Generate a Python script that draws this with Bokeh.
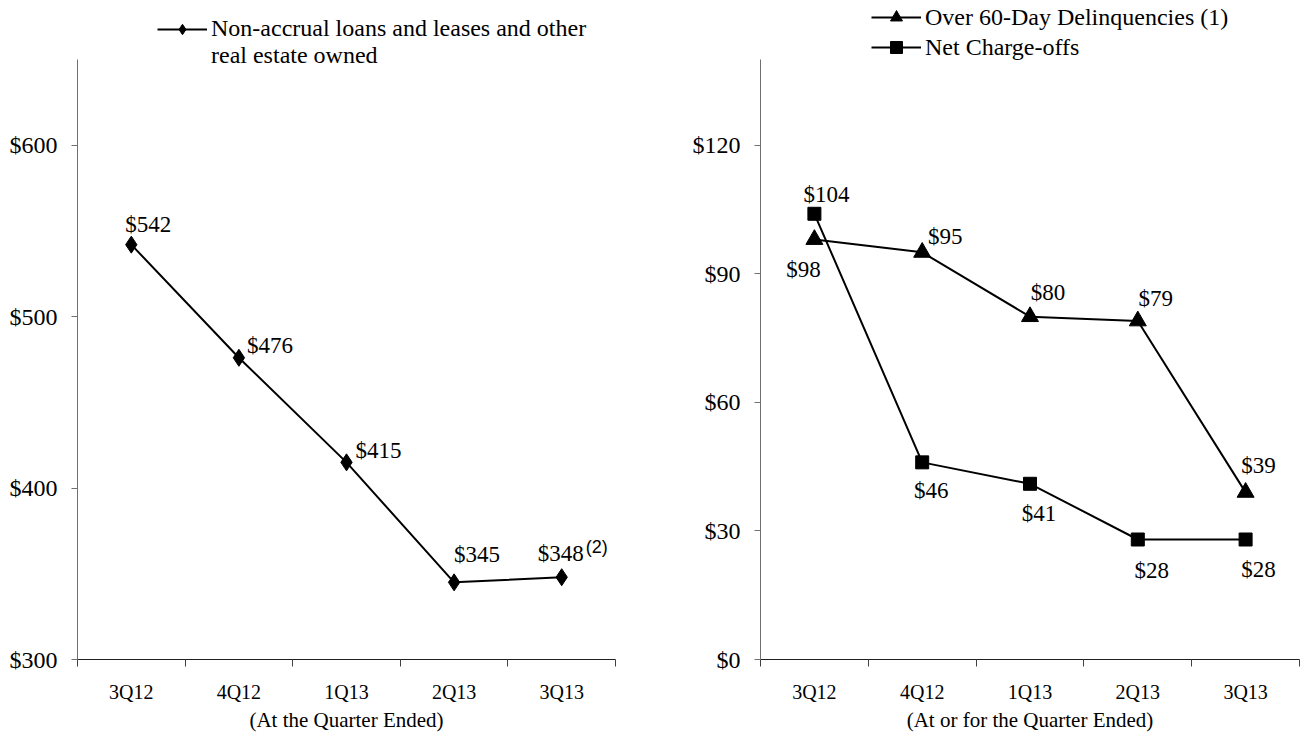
from bokeh.plotting import figure
from bokeh.models import (ColumnDataSource, FixedTicker, Legend, LegendItem,
                          NumeralTickFormatter, Range1d)
from bokeh.layouts import row
from bokeh.embed import file_html
from bokeh.resources import INLINE
from bokeh.core.properties import value

# ---------------- data ----------------
quarters = ["3Q12", "4Q12", "1Q13", "2Q13", "3Q13"]
nonaccrual = [542, 476, 415, 345, 348]
delinquencies = [98, 95, 80, 79, 39]
charge_offs = [104, 46, 41, 28, 28]

left_ticks = [300, 400, 500, 600]
left_bounds = (300, 650)
right_ticks = [0, 30, 60, 90, 120]
right_bounds = (0, 140)

# label placement (screen px offsets from each point)
nonaccrual_dx = [17, 31, 32, 23, -1]
nonaccrual_dy = [-20, -12, -12, -28, -24]
delinq_dx = [-11, 23, 18, 18, 13]
delinq_dy = [30, -16, -24, -22, -27]
charge_dx = [12, 9, 9, 14, 13]
charge_dy = [-19, 28, 30, 31, 30]

FONT = "Liberation Serif"
FS_DATA = "23px"
FS_TICK = "24px"
FS_CAT = "20px"
FS_TITLE = "21px"
FS_LEG = "24px"
H = 734
AXIS_TOP = 59       # screen y of top of the value axes
FRAME_H = 659       # frame runs from the top of the page to the x axis
AXIS_H = FRAME_H - AXIS_TOP


def yrange(bounds):
    lo, hi = bounds
    return Range1d(lo, lo + (hi - lo) * FRAME_H / AXIS_H)


def style(p, ticks, bounds, lab):
    p.x_range = Range1d(0, len(quarters))
    p.xaxis.ticker = FixedTicker(ticks=[i + 0.5 for i in range(len(quarters))],
                                 minor_ticks=list(range(len(quarters) + 1)))
    p.xaxis.major_label_overrides = {i + 0.5: q for i, q in enumerate(quarters)}
    p.xaxis.major_tick_out = 0
    p.xaxis.major_tick_in = 0
    p.xaxis.minor_tick_out = 7
    p.xaxis.minor_tick_in = 0
    p.xaxis.minor_tick_line_color = "#404040"
    p.xaxis.axis_line_color = "#202020"
    p.xaxis.major_label_standoff = 14
    p.xaxis.axis_label = lab
    p.xaxis.axis_label_standoff = 2
    p.yaxis.ticker = FixedTicker(ticks=ticks)
    p.yaxis.bounds = bounds
    p.yaxis.formatter = NumeralTickFormatter(format="$0")
    p.yaxis.major_tick_out = 6
    p.yaxis.major_tick_in = 0
    p.yaxis.minor_tick_out = 0
    p.yaxis.minor_tick_in = 0
    p.yaxis.axis_line_color = "#707070"
    p.yaxis.major_tick_line_color = "#707070"
    p.yaxis.major_label_standoff = 14
    p.xaxis.major_label_text_font_size = FS_CAT
    p.yaxis.major_label_text_font_size = FS_TICK
    for ax in (p.xaxis, p.yaxis):
        ax.major_label_text_font = FONT
        ax.major_label_text_color = "black"
        ax.axis_label_text_font = FONT
        ax.axis_label_text_font_size = FS_TITLE
        ax.axis_label_text_font_style = "normal"
        ax.axis_label_text_color = "black"
    p.xgrid.visible = False
    p.ygrid.visible = False
    p.outline_line_color = None


def style_legend(lg, glyph_h):
    lg.background_fill_alpha = 0
    lg.border_line_color = None
    lg.padding = 0
    lg.margin = 0
    lg.spacing = 0
    lg.glyph_width = 50
    lg.glyph_height = glyph_h
    lg.label_standoff = 4
    lg.label_text_font = FONT
    lg.label_text_font_size = FS_LEG
    lg.label_text_color = "black"
    lg.label_height = 24


xs = [i + 0.5 for i in range(len(quarters))]

# ---------------- left chart ----------------
p1 = figure(width=77 + 538 + 24, height=H, output_backend="svg", toolbar_location=None,
            min_border_left=77, min_border_right=24, min_border_top=0,
            min_border_bottom=H - FRAME_H, frame_width=538, frame_height=FRAME_H,
            y_range=yrange(left_bounds))
style(p1, left_ticks, left_bounds, "(At the Quarter Ended)")

src1 = ColumnDataSource(dict(x=xs, y=nonaccrual,
                             lab=["$" + str(v) for v in nonaccrual],
                             dx=nonaccrual_dx, dy=nonaccrual_dy))
l1 = p1.line("x", "y", source=src1, line_color="black", line_width=2)
s1 = p1.scatter("x", "y", source=src1, marker="diamond", size=17, color="black")
p1.text("x", "y", text="lab", source=src1, x_offset="dx", y_offset="dy",
        text_font=value(FONT), text_font_size=FS_DATA, text_align="center",
        text_baseline="middle", text_color="black")
# footnote superscript on the last label
p1.text(x=[xs[-1]], y=[nonaccrual[-1]], text=["(2)"], x_offset=[35], y_offset=[-30],
        text_font=value("Liberation Sans"), text_font_size="18px", text_align="center",
        text_baseline="middle", text_color="black")

leg1 = Legend(items=[LegendItem(label="Non-accrual loans and leases and other",
                                renderers=[l1, s1]),
                     LegendItem(label="real estate owned", renderers=[])],
              location=(80, 590))
style_legend(leg1, 26)
p1.add_layout(leg1)

# ---------------- right chart ----------------
p2 = figure(width=121 + 539 + 2, height=H, output_backend="svg", toolbar_location=None,
            min_border_left=121, min_border_right=2, min_border_top=0,
            min_border_bottom=H - FRAME_H, frame_width=539, frame_height=FRAME_H,
            y_range=yrange(right_bounds))
style(p2, right_ticks, right_bounds, "(At or for the Quarter Ended)")

src2 = ColumnDataSource(dict(x=xs, y=delinquencies,
                             lab=["$" + str(v) for v in delinquencies],
                             dx=delinq_dx, dy=delinq_dy))
src3 = ColumnDataSource(dict(x=xs, y=charge_offs,
                             lab=["$" + str(v) for v in charge_offs],
                             dx=charge_dx, dy=charge_dy))
l2 = p2.line("x", "y", source=src2, line_color="black", line_width=2)
s2 = p2.scatter("x", "y", source=src2, marker="triangle", size=17, color="black")
l3 = p2.line("x", "y", source=src3, line_color="black", line_width=2)
s3 = p2.scatter("x", "y", source=src3, marker="square", size=13, color="black")
for src in (src2, src3):
    p2.text("x", "y", text="lab", source=src, x_offset="dx", y_offset="dy",
            text_font=value(FONT), text_font_size=FS_DATA, text_align="center",
            text_baseline="middle", text_color="black")

leg2 = Legend(items=[LegendItem(label="Over 60-Day Delinquencies (1)", renderers=[l2, s2]),
                     LegendItem(label="Net Charge-offs", renderers=[l3, s3])],
              location=(111, 597))
style_legend(leg2, 30)
p2.add_layout(leg2)

layout = row(p1, p2, spacing=0)
open("out.html", "w").write(file_html(layout, INLINE))
